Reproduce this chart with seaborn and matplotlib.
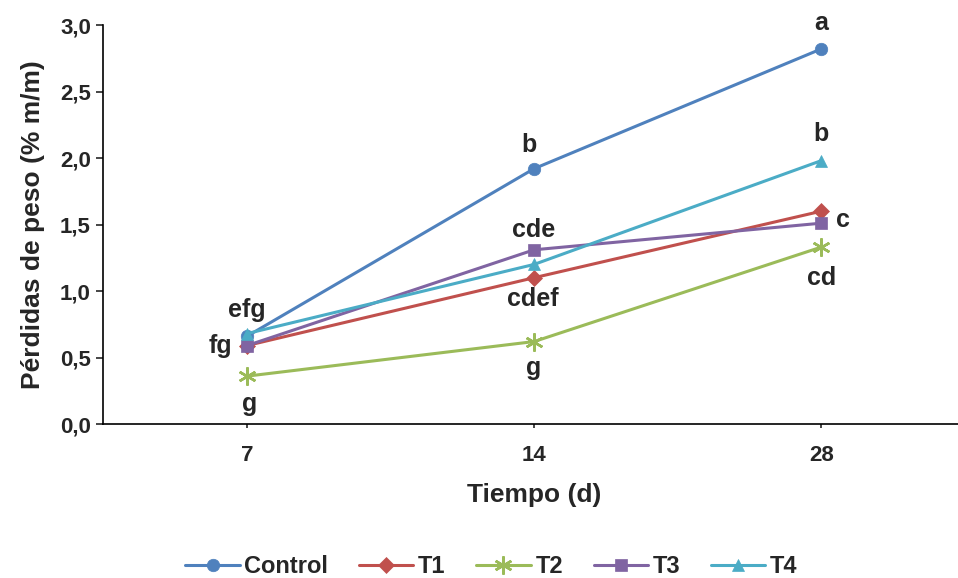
import pandas as pd
import numpy as np
import matplotlib.pyplot as plt
import seaborn as sns

days = ["7", "14", "28"]
series = ["Control", "T1", "T2", "T3", "T4"]
control = [0.66, 1.92, 2.82]
t1 = [0.59, 1.10, 1.60]
t2 = [0.36, 0.62, 1.33]
t3 = [0.59, 1.31, 1.51]
t4 = [0.68, 1.20, 1.98]

# letters of significance: (day index, value, text, offset in points)
letters_day = [0, 0, 0, 1, 1, 1, 1, 2, 2, 2, 2]
letters_val = [0.66, 0.59, 0.36, 1.92, 1.31, 1.10, 0.62, 2.82, 1.98, 1.60, 1.33]
letters_txt = ["efg", "fg", "g", "b", "cde", "cdef", "g", "a", "b", "c", "cd"]
letters_off = [(0, 19), (-19, 0), (2, -20), (-4, 17), (0, 14), (-1, -15), (0, -19), (0, 19), (0, 19), (16, -6), (0, -22)]

colors = ["#4F81BD", "#C0504D", "#9BBB59", "#8064A2", "#4BACC6"]
markers = ["o", "D", (6, 2, 0), "s", "^"]
sizes = [9, 8, 13, 9, 9]

df = pd.DataFrame({
    "Tiempo": days * len(series),
    "Serie": np.repeat(series, len(days)),
    "valor": control + t1 + t2 + t3 + t4,
})

sns.set_style("white")
plt.rcParams["font.family"] = ["Liberation Sans", "DejaVu Sans"]
plt.rcParams["font.weight"] = "bold"

fig = plt.figure(figsize=(9.58, 5.78), dpi=100)
ax = fig.add_axes([0.108, 0.2664, 0.899, 0.6903])

for name, col, mk, ms in zip(series, colors, markers, sizes):
    sub = df[df["Serie"] == name]
    sns.lineplot(data=sub, x="Tiempo", y="valor", sort=False, color=col,
                 marker=mk, markersize=ms, markeredgecolor=col,
                 markeredgewidth=1.8 if mk == (6, 2, 0) else 0.5,
                 linewidth=2.2, label=name, ax=ax)

for d, v, t, off in zip(letters_day, letters_val, letters_txt, letters_off):
    ax.annotate(t, (d, v), xytext=off, textcoords="offset points",
                ha="center", va="center", fontsize=18, fontweight="bold")

ax.set_xlim(-0.5, 2.5)
ax.set_ylim(0, 3.0)
ax.set_yticks(np.arange(0, 3.01, 0.5))
ax.set_yticklabels([f"{v:.1f}".replace(".", ",") for v in np.arange(0, 3.01, 0.5)])
ax.tick_params(axis="y", direction="out", length=5, width=1.2, left=True, labelsize=16, pad=4)
ax.tick_params(axis="x", direction="out", length=3, width=1.2, bottom=True, labelsize=16, pad=12)
ax.set_xlabel("Tiempo (d)", fontsize=19, fontweight="bold", labelpad=12)
ax.set_ylabel("Pérdidas de peso (% m/m)", fontsize=19, fontweight="bold", labelpad=11)
for s in ["top", "right"]:
    ax.spines[s].set_visible(False)
for s in ["left", "bottom"]:
    ax.spines[s].set_color("black")
    ax.spines[s].set_linewidth(1.2)

ax.get_legend().remove()
h, l = ax.get_legend_handles_labels()
fig.legend(h, l, loc="center", bbox_to_anchor=(0.513, 0.02), ncol=5,
           frameon=False, fontsize=17, handlelength=2.3, columnspacing=1.3,
           handletextpad=0.2)

plt.savefig("out.png", dpi=100)
plt.close()
